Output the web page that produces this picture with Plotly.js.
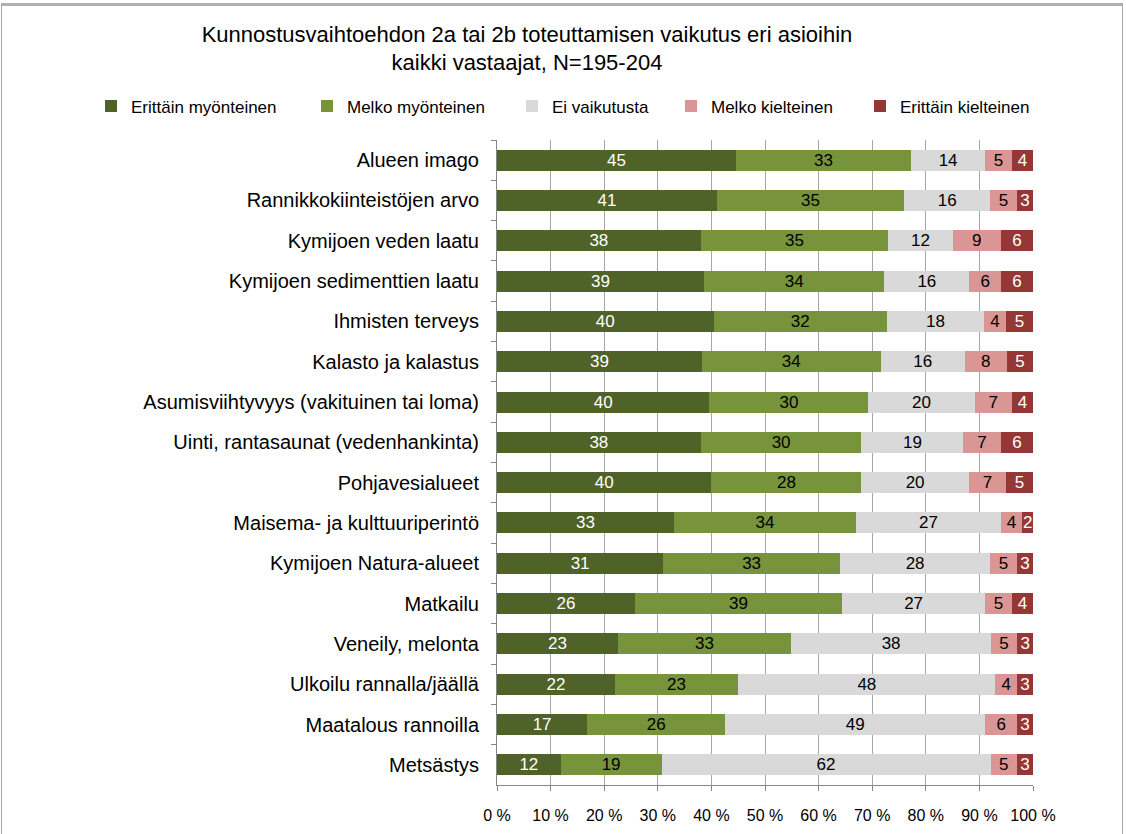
<!DOCTYPE html>
<html>
<head>
<meta charset="utf-8">
<script src="https://cdn.plot.ly/plotly-3.0.1.min.js"></script>
<style>
  body { margin: 0; background: #ffffff; }
  #chart { width: 1126px; height: 834px; position: absolute; left: 0; top: 0; }
  #frame {
    position: absolute; left: 1px; top: 3px; width: 1120px; height: 840px;
    border: 1px solid #a6a6a6; border-top: 3px solid #b0b0b0; pointer-events: none;
  }
</style>
</head>
<body>
<div id="chart"></div>
<div id="frame"></div>
<script>
const categories = [
  "Alueen imago",
  "Rannikkokiinteistöjen arvo",
  "Kymijoen veden laatu",
  "Kymijoen sedimenttien laatu",
  "Ihmisten terveys",
  "Kalasto ja kalastus",
  "Asumisviihtyvyys (vakituinen tai loma)",
  "Uinti, rantasaunat (vedenhankinta)",
  "Pohjavesialueet",
  "Maisema- ja kulttuuriperintö",
  "Kymijoen Natura-alueet",
  "Matkailu",
  "Veneily, melonta",
  "Ulkoilu rannalla/jäällä",
  "Maatalous rannoilla",
  "Metsästys"
];

const seriesNames = [
  "Erittäin myönteinen",
  "Melko myönteinen",
  "Ei vaikutusta",
  "Melko kielteinen",
  "Erittäin kielteinen"
];

const erittainMyonteinen = [45, 41, 38, 39, 40, 39, 40, 38, 40, 33, 31, 26, 23, 22, 17, 12];
const melkoMyonteinen    = [33, 35, 35, 34, 32, 34, 30, 30, 28, 34, 33, 39, 33, 23, 26, 19];
const eiVaikutusta       = [14, 16, 12, 16, 18, 16, 20, 19, 20, 27, 28, 27, 38, 48, 49, 62];
const melkoKielteinen    = [5, 5, 9, 6, 4, 8, 7, 7, 7, 4, 5, 5, 5, 4, 6, 5];
const erittainKielteinen = [4, 3, 6, 6, 5, 5, 4, 6, 5, 2, 3, 4, 3, 3, 3, 3];

const xTicks = [0, 10, 20, 30, 40, 50, 60, 70, 80, 90, 100];

const seriesValues = [erittainMyonteinen, melkoMyonteinen, eiVaikutusta, melkoKielteinen, erittainKielteinen];
const seriesColors = ["#4f6228", "#77933c", "#d9d9d9", "#d99694", "#953735"];
const textColors = ["#ffffff", "#000000", "#000000", "#000000", "#ffffff"];

// legend start x in pixels (plot area spans 497..1033), text sits ~40px to the right
const legendPx = [91, 307, 512, 671, 860];
const plotLeft = 497;
const plotWidth = 536;

const traces = seriesNames.map((name, i) => ({
  type: "bar",
  orientation: "h",
  name: name,
  y: categories,
  x: seriesValues[i],
  text: seriesValues[i].map(String),
  textposition: "inside",
  insidetextanchor: "middle",
  textangle: 0,
  textfont: { size: 17, color: textColors[i], family: "Liberation Sans, Arial, sans-serif" },
  marker: { color: seriesColors[i], line: { width: 0 } },
  legend: i === 0 ? "legend" : "legend" + (i + 1),
  hoverinfo: "name+x"
}));

const legendBase = (i) => ({
  orientation: "h",
  x: (legendPx[i] - plotLeft) / plotWidth,
  xanchor: "left",
  y: 1.052,
  yanchor: "middle",
  bgcolor: "rgba(0,0,0,0)",
  itemwidth: 30,
  font: { size: 17, color: "#000000" }
});

const layout = {
  width: 1126,
  height: 834,
  margin: { l: 497, r: 93, t: 140, b: 49 },
  paper_bgcolor: "#ffffff",
  plot_bgcolor: "#ffffff",
  font: { family: "Liberation Sans, Arial, sans-serif", color: "#000000" },
  title: {
    text: "Kunnostusvaihtoehdon 2a tai 2b toteuttamisen vaikutus eri asioihin<br>kaikki vastaajat, N=195-204",
    font: { size: 22, color: "#000000" },
    xref: "container",
    x: 0.468,
    xanchor: "center",
    yref: "container",
    y: 0.95,
    yanchor: "top"
  },
  barmode: "stack",
  barnorm: "percent",
  bargap: 0.48,
  uniformtext: { mode: "show", minsize: 17 },
  xaxis: {
    range: [0, 100],
    tickvals: xTicks,
    ticktext: xTicks.map((v) => v + " %"),
    ticks: "outside",
    ticklen: 5,
    tickcolor: "#868686",
    ticklabelstandoff: 11,
    showline: true,
    linecolor: "#868686",
    showgrid: true,
    gridcolor: "#a6a6a6",
    gridwidth: 1,
    zeroline: false,
    tickfont: { size: 16 },
    fixedrange: true
  },
  yaxis: {
    autorange: "reversed",
    type: "category",
    ticks: "outside",
    tickson: "boundaries",
    ticklen: 5,
    tickcolor: "#868686",
    ticklabelstandoff: 13,
    showline: true,
    linecolor: "#868686",
    showgrid: false,
    tickfont: { size: 20 },
    fixedrange: true
  },
  showlegend: true,
  legend: legendBase(0),
  legend2: legendBase(1),
  legend3: legendBase(2),
  legend4: legendBase(3),
  legend5: legendBase(4)
};

Plotly.newPlot("chart", traces, layout, { displayModeBar: false, responsive: false });
</script>
</body>
</html>
